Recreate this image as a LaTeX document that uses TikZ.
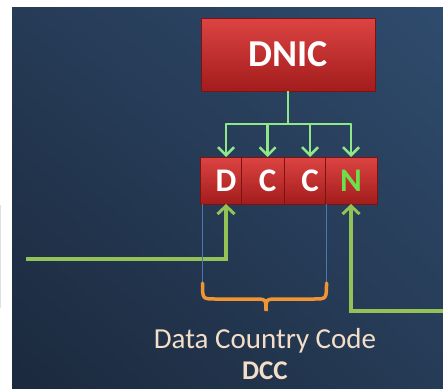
\documentclass[tikz,border=0pt]{standalone}
\usepackage{fontspec}
\setmainfont{Carlito}
\usetikzlibrary{positioning,arrows.meta,shadings,calc}

\definecolor{bgtop}{HTML}{2F4B6D}
\definecolor{bgmid}{HTML}{263B56}
\definecolor{bgbot}{HTML}{1B293D}
\definecolor{boxtop}{HTML}{DC4442}
\definecolor{boxbot}{HTML}{A31C1C}
\definecolor{boxedge}{HTML}{7E1212}
\definecolor{busgreen}{HTML}{8EE88A}
\definecolor{ingreen}{HTML}{93C257}
\definecolor{ngreen}{HTML}{6BE04A}
\definecolor{markblue}{HTML}{4D76B0}
\definecolor{braceorange}{HTML}{F09434}
\definecolor{labeltext}{HTML}{F4DEC8}

\tikzset{
  redbox/.style={draw=boxedge, line width=0.8pt, top color=boxtop, bottom color=boxbot,
    inner sep=0pt, outer sep=0pt, text=white, font=\bfseries},
  bigbox/.style={redbox, minimum width=174pt, minimum height=73pt,
    font=\bfseries\fontsize{38}{42}\selectfont},
  digit/.style={redbox, minimum width=52pt, minimum height=47pt,
    font=\bfseries\fontsize{33}{36}\selectfont},
  bus/.style={busgreen, line width=2.5pt},
  busarrow/.style={bus, -{Straight Barb[length=8pt,width=16pt,line width=2.5pt]}},
  inarrow/.style={ingreen, line width=4pt,
    -{Straight Barb[length=8pt,width=17pt,line width=3pt]}},
  guide/.style={markblue, line width=1.2pt},
  bracket/.style={braceorange, line width=3.5pt, line cap=round},
  caption/.style={text=labeltext, inner sep=0pt, anchor=base,
    font=\fontsize{29}{32}\selectfont}
}

\begin{document}
\begin{tikzpicture}[x=1pt,y=-1pt]
  \useasboundingbox (0,0) rectangle (443,388);
  \fill[white] (0,0) rectangle (443,388);
  \draw[black!12, line width=1pt] (0.5,205) -- (0.5,308);
  \shade[upper left=bgmid, upper right=bgtop, lower left=bgbot, lower right=bgmid]
    (12,7) rectangle (443,388);

  % DNIC and its four digits (each one laid over the one before)
  \node[bigbox] (dnic) at (288,54.5) {DNIC};
  \node[digit] (d) at (226,180.5) {D};
  \node[digit, right=41.7pt of d.west] (c1) {C};
  \node[digit, right=42.3pt of c1.west] (c2) {C};
  \node[digit, right=41pt of c2.west, text=ngreen] (n) {N};

  % bus from DNIC down to the digits
  \coordinate (bus) at (288,124);
  \draw[bus] (dnic.south) -- (bus);
  \draw[bus, line cap=round] (d.north |- bus) -- (n.north |- bus);
  \foreach \b in {d,c1,c2,n}
    \draw[busarrow] (\b.north |- bus) -- (\b.north);

  % incoming arrows
  \coordinate (lin) at (26,259);
  \coordinate (rin) at (443,311);
  \draw[inarrow] (lin) -- (lin -| d.south) -- (d.south);
  \draw[inarrow] (rin) -- (rin -| n.south) -- (n.south);

  % guides and brace
  \coordinate (bl) at ([xshift=2.5pt]d.south west |- 0,283);
  \coordinate (br) at ([xshift=1.5pt]n.south west |- 0,283);
  \draw[guide] ([xshift=2.5pt]d.south west) -- (bl);
  \draw[guide] ([xshift=1.5pt]n.south west) -- (br);
  \draw[bracket] (bl) .. controls ($(bl)+(0,16)$) .. ($(bl)+(13,16)$)
    -- (254,299) .. controls (266,299) .. (266,311)
    .. controls (266,299) .. (278,299)
    -- ($(br)+(-13,16)$) .. controls ($(br)+(0,16)$) .. (br);

  % captions
  \node[caption] (dcc) at (265,348) {Data Country Code};
  \node[caption, font=\bfseries\fontsize{27}{30}\selectfont] (abbr) at (265,379) {DCC};
\end{tikzpicture}
\end{document}
